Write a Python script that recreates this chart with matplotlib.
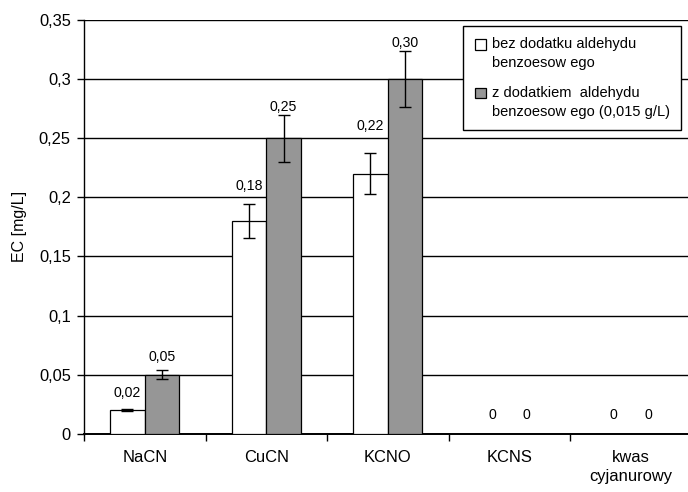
import numpy as np
import matplotlib.pyplot as plt
from matplotlib.ticker import FuncFormatter

plt.rcParams['font.family'] = ['Liberation Sans', 'DejaVu Sans']

categories = ['NaCN', 'CuCN', 'KCNO', 'KCNS', 'kwas\ncyjanurowy']
bez = [0.02, 0.18, 0.22, 0, 0]
z_ald = [0.05, 0.25, 0.30, 0, 0]
bez_err = [0.001, 0.0145, 0.0175, 0, 0]
z_err = [0.004, 0.02, 0.024, 0, 0]
labels_bez = ['0,02', '0,18', '0,22', '0', '0']
labels_z = ['0,05', '0,25', '0,30', '0', '0']
series_names = ['bez dodatku aldehydu\nbenzoesow ego',
                'z dodatkiem  aldehydu\nbenzoesow ego (0,015 g/L)']

# label height above bar top, pixels
pad_bez = [17, 35, 48, 19, 19]
pad_z = [18, 31, 36, 19, 19]

fig = plt.figure(figsize=(6.88, 4.92), dpi=100)
ax = fig.add_axes([0.1221, 0.1185, 0.8830, 0.8408])

x = np.arange(len(categories))
w = 1 / 3.5

b1 = ax.bar(x - w / 2, bez, w, color='white', edgecolor='black', linewidth=0.9,
            label=series_names[0], zorder=3)
b2 = ax.bar(x + w / 2, z_ald, w, color='#969696', edgecolor='black', linewidth=0.9,
            label=series_names[1], zorder=3)

ekw = dict(fmt='none', ecolor='black', elinewidth=1, capsize=4.5, capthick=1, zorder=4)
ax.errorbar(x[:3] - w / 2, bez[:3], yerr=bez_err[:3], **ekw)
ax.errorbar(x[:3] + w / 2, z_ald[:3], yerr=z_err[:3], **ekw)

for xi, v, t, p in zip(x - w / 2, bez, labels_bez, pad_bez):
    ax.annotate(t, (xi, v), xytext=(0, p), textcoords='offset pixels',
                ha='center', va='center', fontsize=10.2)
for xi, v, t, p in zip(x + w / 2, z_ald, labels_z, pad_z):
    ax.annotate(t, (xi, v), xytext=(0, p), textcoords='offset pixels',
                ha='center', va='center', fontsize=10.2)

ax.set_xlim(-0.5, 4.5)
ax.set_ylim(0, 0.35)
ax.set_yticks(np.arange(0, 0.351, 0.05))
ax.yaxis.set_major_formatter(FuncFormatter(lambda v, pos: f'{round(v, 2):g}'.replace('.', ',')))
ax.grid(axis='y', color='black', linewidth=1, zorder=0)
ax.set_axisbelow(True)

# categories labelled at centers, ticks between them
ax.set_xticks(np.arange(-0.5, 4.6, 1.0))
ax.set_xticklabels([])
ax.set_xticks(x, minor=True)
ax.set_xticklabels(categories, minor=True, fontsize=11.9, va='top', linespacing=1.3)
ax.tick_params(axis='x', which='minor', length=0, pad=12)
ax.tick_params(axis='x', which='major', length=5, width=1, direction='out')
ax.tick_params(axis='y', length=5, width=1, direction='out', pad=4.5, labelsize=11.9)

for s in ['top', 'right']:
    ax.spines[s].set_visible(False)
ax.spines['left'].set_linewidth(1)
ax.spines['bottom'].set_linewidth(1.4)

ax.set_ylabel('EC [mg/L]', fontsize=11.5)
ax.yaxis.set_label_coords(-0.0938, 0.5)

leg = ax.legend(loc='upper right', bbox_to_anchor=(0.983, 0.986), borderaxespad=0,
                fontsize=10.5, handlelength=0.75, handleheight=0.75, handletextpad=0.4,
                labelspacing=1.05, borderpad=0.8, fancybox=False, framealpha=1,
                edgecolor='black')
leg.get_frame().set_linewidth(1)
leg.set_zorder(10)
for t in leg.get_texts():
    t.set_linespacing(1.45)
# put the swatches level with the first line of each entry
for p in leg.get_patches():
    p.set_y(p.get_y() + 7)

fig.savefig('out.png', dpi=100, facecolor='white')
